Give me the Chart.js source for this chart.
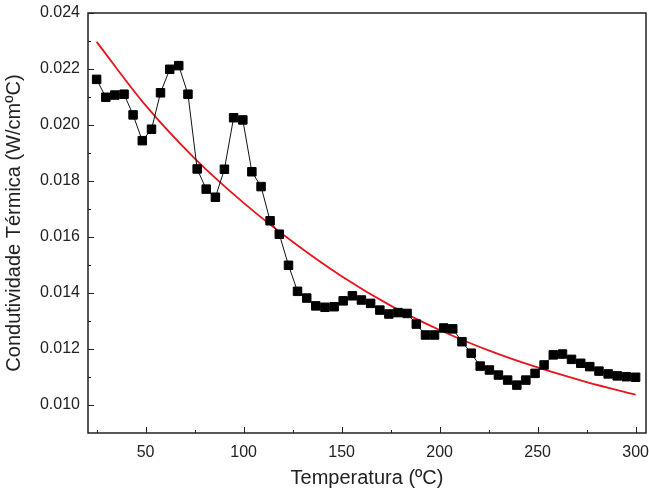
<!DOCTYPE html>
<html>
<head>
<meta charset="utf-8">
<script src="https://cdn.jsdelivr.net/npm/chart.js@4"></script>
<style>
body{margin:0;background:#fff}
</style>
</head>
<body>
<canvas id="chart" width="649" height="495"></canvas>
<script>

// measured points (temperature, conductivity)
const temps = [25.0,29.7,34.3,39.0,43.6,48.3,53.0,57.6,62.3,66.9,
71.6,76.3,80.9,85.6,90.2,94.9,99.6,104.2,108.9,113.5,
118.2,122.9,127.5,132.2,136.8,141.5,146.2,150.8,155.5,160.1,
164.8,169.5,174.1,178.8,183.4,188.1,192.8,197.4,202.1,206.7,
211.4,216.1,220.7,225.4,230.0,234.7,239.4,244.0,248.7,253.3,
258.0,262.7,267.3,272.0,276.6,281.3,286.0,290.6,295.3,300.0]

const conductivity = [0.02163,0.02099,0.02107,0.02110,0.02036,0.01944,0.01985,0.02115,0.02199,0.02212,
0.02110,0.01843,0.01771,0.01742,0.01842,0.02026,0.02018,0.01833,0.01780,0.01658,
0.01610,0.01499,0.01406,0.01382,0.01354,0.01349,0.01351,0.01372,0.01390,0.01375,
0.01363,0.01339,0.01325,0.01330,0.01327,0.01289,0.01250,0.01250,0.01275,0.01272,
0.01226,0.01185,0.01139,0.01125,0.01107,0.01089,0.01071,0.01089,0.01113,0.01143,
0.01179,0.01182,0.01163,0.01149,0.01137,0.01121,0.01111,0.01104,0.01101,0.01099]

// red fit curve
const fitTemps = [25,50,75,100,125,150,175,200,225,250,275,300]
const fitValues = [0.02297,0.02070,0.01881,0.01722,0.01583,0.01460,0.01355,0.01268,0.01195,0.01134,0.01082,0.01037]

const xTicks = [50,100,150,200,250,300]
const xMinor = [25,75,125,175,225,275]
const yTicks = [0.010,0.012,0.014,0.016,0.018,0.020,0.022,0.024]
const yMinor = [0.011,0.013,0.015,0.017,0.019,0.021,0.023]

const font = "'Liberation Sans', Arial, sans-serif"
const ink = "#222"

const frame = {
id: "frame",
afterDraw(chart){
let ctx = chart.ctx
let a = chart.chartArea
let x = chart.scales.x
let y = chart.scales.y
ctx.save()
ctx.strokeStyle = ink
ctx.lineWidth = 1
ctx.beginPath()
xTicks.forEach(v=>{ let p = Math.round(x.getPixelForValue(v))+0.5; ctx.moveTo(p,a.bottom); ctx.lineTo(p,a.bottom-6) })
xMinor.forEach(v=>{ let p = Math.round(x.getPixelForValue(v))+0.5; ctx.moveTo(p,a.bottom); ctx.lineTo(p,a.bottom-3) })
yTicks.forEach(v=>{ let p = Math.round(y.getPixelForValue(v))+0.5; ctx.moveTo(a.left,p); ctx.lineTo(a.left+6,p) })
yMinor.forEach(v=>{ let p = Math.round(y.getPixelForValue(v))+0.5; ctx.moveTo(a.left,p); ctx.lineTo(a.left+3,p) })
ctx.stroke()
ctx.lineWidth = 1.5
ctx.strokeRect(a.left, a.top, a.right-a.left, a.bottom-a.top)
ctx.restore()
}
}

new Chart(document.getElementById("chart"),{
type: "scatter",
data: {
datasets: [
{
label: "fit",
data: fitTemps.map((t,i)=>({x:t, y:fitValues[i]})),
showLine: true,
borderColor: "#e8141c",
borderWidth: 1.8,
pointRadius: 0,
tension: 0.4,
cubicInterpolationMode: "monotone",
order: 2
},
{
label: "data",
data: temps.map((t,i)=>({x:t, y:conductivity[i]})),
showLine: true,
borderColor: "#111",
borderWidth: 1,
pointStyle: "rect",
pointRadius: 6,
pointBorderWidth: 1,
pointBackgroundColor: "#000",
pointBorderColor: "#000",
order: 1
}
]
},
options: {
responsive: false,
animation: false,
devicePixelRatio: 1,
layout: { autoPadding: false, padding: { top: 13, right: 3, left: 0, bottom: 0 } },
plugins: { legend: { display: false }, tooltip: { enabled: false } },
scales: {
x: {
type: "linear",
min: 20.6,
max: 305.3,
afterBuildTicks: s => { s.ticks = xTicks.map(v=>({value:v})) },
afterFit: s => { s.height = 62; s.paddingLeft = 0; s.paddingRight = 0 },
grid: { display: false, drawTicks: false },
border: { display: false },
ticks: { color: ink, font: { family: font, size: 16 }, padding: 10 },
title: { display: true, text: "Temperatura (ºC)", color: ink, font: { family: font, size: 20 }, padding: { top: 4, bottom: 5 } }
},
y: {
type: "linear",
min: 0.009,
max: 0.024,
afterBuildTicks: s => { s.ticks = yTicks.map(v=>({value:v})) },
afterFit: s => { s.width = 88; s.paddingTop = 0; s.paddingBottom = 0 },
grid: { display: false, drawTicks: false },
border: { display: false },
ticks: { color: ink, font: { family: font, size: 16 }, padding: 8, callback: v => v.toFixed(3) },
title: { display: true, text: "Condutividade Térmica (W/cmºC)", color: ink, font: { family: font, size: 20 }, padding: { top: 2, bottom: 2 } }
}
}
},
plugins: [frame]
})

</script>
</body>
</html>
